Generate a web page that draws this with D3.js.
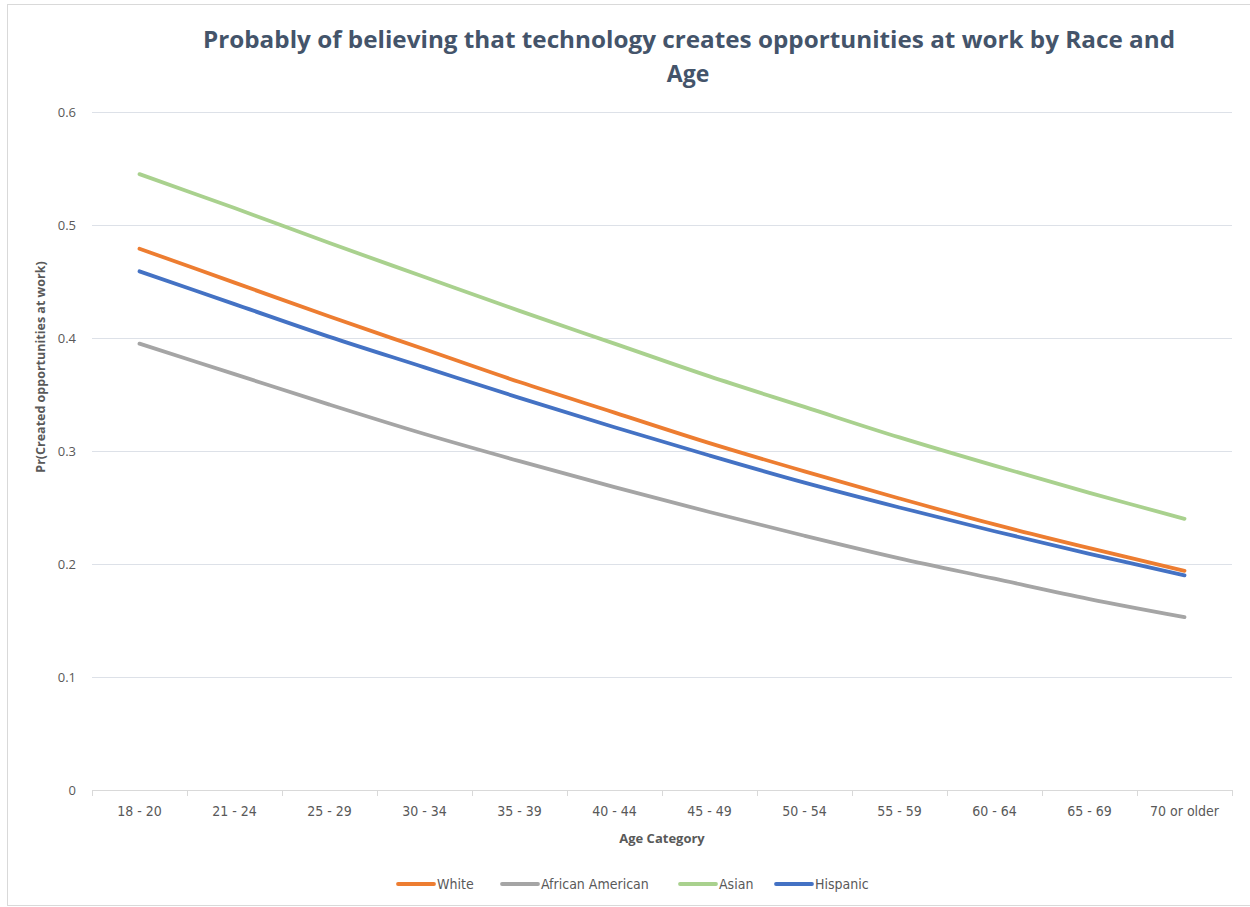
<!DOCTYPE html>
<html>
<head>
<meta charset="utf-8">
<script src="https://cdn.jsdelivr.net/npm/d3@7"></script>
<style>
  html, body { margin: 0; padding: 0; background: #fff; }
  svg { display: block; }
</style>
</head>
<body>
<svg id="chart" width="1250" height="907"></svg>
<script>
const categories = ["18 - 20","21 - 24","25 - 29","30 - 34","35 - 39","40 - 44","45 - 49","50 - 54","55 - 59","60 - 64","65 - 69","70 or older"];
const white    = [0.479,0.449,0.419,0.390,0.361,0.334,0.307,0.282,0.258,0.235,0.214,0.194];
const africanAmerican = [0.395,0.368,0.341,0.315,0.291,0.268,0.246,0.225,0.205,0.187,0.169,0.153];
const asian    = [0.545,0.515,0.484,0.454,0.424,0.395,0.366,0.339,0.312,0.287,0.263,0.240];
const hispanic = [0.459,0.430,0.401,0.374,0.347,0.321,0.296,0.272,0.250,0.229,0.209,0.190];
const seriesNames = ["White","African American","Asian","Hispanic"];
const yTicks = [0,0.1,0.2,0.3,0.4,0.5,0.6];

const series = [
  {name: seriesNames[0], values: white, color: "#ED7D31"},
  {name: seriesNames[1], values: africanAmerican, color: "#A5A5A5"},
  {name: seriesNames[2], values: asian, color: "#A9D18E"},
  {name: seriesNames[3], values: hispanic, color: "#4472C4"}
];

const svg = d3.select("#chart");
const plotLeft = 92, plotRight = 1232, plotTop = 112, plotBottom = 790;

// outer border
svg.append("rect").attr("x", 7.5).attr("y", 4.5).attr("width", 1250).attr("height", 901)
  .attr("fill", "#fff").attr("stroke", "#D9D9D9").attr("stroke-width", 1);

const x = d3.scaleBand().domain(categories).range([plotLeft, plotRight]);
const y = d3.scaleLinear().domain([0, 0.6]).range([plotBottom, plotTop]);

// gridlines
svg.append("g").selectAll("line").data(yTicks.filter(d => d > 0)).join("line")
  .attr("x1", plotLeft).attr("x2", plotRight)
  .attr("y1", d => Math.round(y(d)) + 0.5).attr("y2", d => Math.round(y(d)) + 0.5)
  .attr("stroke", "#DDE1E8").attr("stroke-width", 1);

// y axis labels
const yAxis = d3.axisLeft(y).tickValues(yTicks).tickSize(0).tickPadding(16)
  .tickFormat(d => d === 0 ? "0" : d3.format(".1f")(d));
const gy = svg.append("g").attr("transform", `translate(${plotLeft},0)`).call(yAxis);
gy.select(".domain").remove();
gy.selectAll("text").attr("fill", "#595959").style("font-family", "'Open Sans', sans-serif").style("font-size", "13px");

// x axis
const xAxis = d3.axisBottom(x).tickSize(0).tickPadding(16);
const gx = svg.append("g").attr("transform", `translate(0,${plotBottom})`).call(xAxis);
gx.select(".domain").attr("stroke", "#D9D9D9");
gx.selectAll("text").attr("fill", "#595959").style("font-family", "'Liberation Sans Narrow', 'DejaVu Sans Condensed', sans-serif").style("font-size", "14px").style("font-stretch", "condensed");
// boundary tick marks
const bounds = categories.map(c => x(c)).concat([plotRight]);
svg.append("g").selectAll("line").data(bounds).join("line")
  .attr("x1", d => Math.round(d) + 0.5).attr("x2", d => Math.round(d) + 0.5)
  .attr("y1", plotBottom).attr("y2", plotBottom + 6)
  .attr("stroke", "#D9D9D9");

// lines
const line = d3.line()
  .x((d, i) => x(categories[i]) + x.bandwidth() / 2)
  .y(d => y(d))
  .curve(d3.curveCatmullRom.alpha(0.5));

svg.append("g").selectAll("path").data(series).join("path")
  .attr("d", d => line(d.values))
  .attr("fill", "none")
  .attr("stroke", d => d.color)
  .attr("stroke-width", 3.8)
  .attr("stroke-linecap", "round")
  .attr("stroke-linejoin", "round");

// title
const title = svg.append("text").attr("text-anchor", "middle")
  .attr("fill", "#44546A").style("font-family", "'Open Sans', sans-serif")
  .style("font-weight", "bold").style("font-size", "23px");
title.append("tspan").attr("x", 689).attr("y", 48).attr("textLength", 972).attr("lengthAdjust", "spacingAndGlyphs")
  .text("Probably of believing that technology creates opportunities at work by Race and");
title.append("tspan").attr("x", 688).attr("y", 82).text("Age");

// axis titles
svg.append("text").attr("x", 662).attr("y", 843).attr("text-anchor", "middle")
  .attr("fill", "#595959").style("font-family", "'Open Sans', sans-serif")
  .style("font-weight", "bold").style("font-size", "13px").text("Age Category");

svg.append("text").attr("transform", "translate(45,367) rotate(-90)").attr("text-anchor", "middle")
  .attr("fill", "#595959").style("font-family", "'Open Sans', sans-serif")
  .style("font-weight", "bold").style("font-size", "12.5px").text("Pr(Created opportunities at  work)");

// legend
const legendX = [398, 502, 680, 776];
const lg = svg.append("g").selectAll("g").data(series).join("g")
  .attr("transform", (d, i) => `translate(${legendX[i]},884)`);
lg.append("line").attr("x1", 0).attr("x2", 36).attr("y1", 0).attr("y2", 0)
  .attr("stroke", d => d.color).attr("stroke-width", 3.8).attr("stroke-linecap", "round");
lg.append("text").attr("x", 39).attr("y", 5).attr("fill", "#595959")
  .style("font-family", "'Liberation Sans Narrow', 'DejaVu Sans Condensed', sans-serif").style("font-size", "14px")
  .text(d => d.name);
</script>
</body>
</html>
